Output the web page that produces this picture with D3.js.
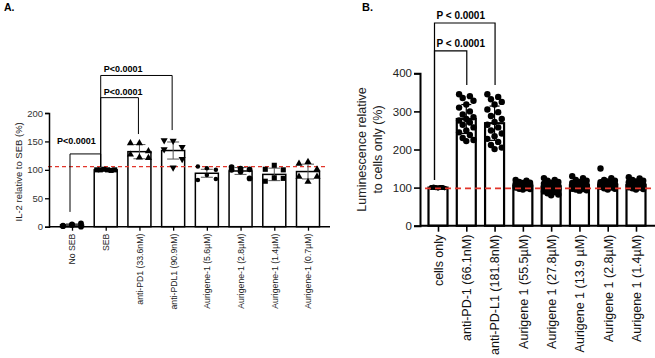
<!DOCTYPE html>
<html><head><meta charset="utf-8">
<script src="https://cdn.jsdelivr.net/npm/d3@7"></script>
<style>body{margin:0;background:#fff}svg{display:block;font-family:"Liberation Sans",Arial,sans-serif}</style>
</head><body>
<svg id="c" width="655" height="358"></svg>
<script>
// ---------- Panel A data ----------
const catsA = ["No SEB","SEB","anti-PD1 (33.6nM)","anti-PDL1 (90.9nM)","Aurigene-1 (5.6µM)","Aurigene-1 (2.8µM)","Aurigene-1 (1.4µM)","Aurigene-1 (0.7µM)"];
const meansA = [3, 100, 132, 134, 94, 98, 92, 97];
const sdA = [2, 0.5, 12.5, 15, 7, 6, 11, 13];
const pointsA = [
  [2, 4, 6, 1, 3, 0],
  [100, 100, 101, 100, 99, 100],
  [147, 147, 121, 127, 122, 133],
  [152, 151, 140, 136, 104, 119],
  [106, 103, 100, 82, 91, 84],
  [105, 102, 101, 100, 97, 85],
  [101, 108, 100, 80, 86, 85],
  [111, 114, 101, 88, 79, 88]
];
const markersA = ["circle","square","triangle-up","triangle-down","circle","circle","square","triangle-up"];
const refA = 105.5;
const ticksA = [0, 50, 100, 150, 200];
const sigA = [
  {from:1, to:3, level:266, endFrom:105, endTo:170, label:"P<0.0001"},
  {from:1, to:2, level:227, endFrom:105, endTo:163, label:"P<0.0001"},
  {from:0, to:1, level:128, endFrom:26, endTo:105, label:"P<0.0001"}
];

// ---------- Panel B data ----------
const catsB = ["cells only","anti-PD-1 (66.1nM)","anti-PD-L1 (181.8nM)","Aurigene 1 (55.5µM)","Aurigene 1 (27.8µM)","Aurigene 1 (13.9 µM)","Aurigene 1 (2.8µM)","Aurigene 1 (1.4µM)"];
const meansB = [100, 280, 269, 105, 103, 106, 108, 107];
const sdB = [1, 38, 45, 7, 12, 10, 11, 9];
const pointsB = [
  [101,100,99,100,101,100,99,100,102,100,98,100,101,99,100,100,101,99,100,100],
  [345,340,335,328,318,310,300,292,285,280,276,271,265,258,250,245,238,230,225,222],
  [345,338,332,325,318,305,298,288,280,272,265,258,250,242,235,228,220,212,205,201],
  [120,118,115,113,112,110,110,108,108,107,106,105,104,103,102,100,99,97,96,95],
  [125,120,118,115,113,110,108,106,105,103,101,100,98,96,93,90,88,85,82,80],
  [130,125,120,118,115,112,110,108,107,105,104,103,102,100,99,97,96,95,93,92],
  [150,125,120,118,116,114,112,110,109,108,107,106,105,104,103,102,100,98,97,95],
  [127,124,120,118,116,114,112,110,108,107,106,105,104,103,102,101,100,98,96,95]
];
const refB = 98;
const ticksB = [0, 100, 200, 300, 400];
const sigB = [
  {from:0, to:2, level:532, endFrom:120, endTo:369, label:"P < 0.0001"},
  {from:0, to:1, level:459, endFrom:120, endTo:369, label:"P < 0.0001"}
];

const svg = d3.select("#c");
const RED = "#e2352b";

// ================= Panel A =================
(function(){
  const x = d3.scalePoint().domain(catsA).range([72, 308]);
  const y = d3.scaleLinear().domain([0, 200]).range([226.7, 113]);
  const g = svg.append("g");
  const bw = 23;

  g.selectAll("rect.bar").data(catsA).join("rect")
    .attr("x", d => x(d) - bw/2).attr("width", bw)
    .attr("y", (d,i) => y(meansA[i])).attr("height", (d,i) => y(0) - y(meansA[i]))
    .attr("fill", "#fff").attr("stroke", "#000").attr("stroke-width", 1.5);

  g.append("line").attr("x1", 48).attr("x2", 326).attr("y1", y(refA)).attr("y2", y(refA))
    .attr("stroke", RED).attr("stroke-width", 1.2).attr("stroke-dasharray", "4,3");

  catsA.forEach((c,i) => {
    if (i === 1) return;
    const cx = x(c), m = meansA[i], s = sdA[i];
    const eg = g.append("g").attr("stroke", "#555").attr("stroke-width", 1);
    eg.append("line").attr("x1", cx).attr("x2", cx).attr("y1", y(m+s)).attr("y2", y(m-s));
    eg.append("line").attr("x1", cx-6).attr("x2", cx+6).attr("y1", y(m+s)).attr("y2", y(m+s));
    eg.append("line").attr("x1", cx-6).attr("x2", cx+6).attr("y1", y(m-s)).attr("y2", y(m-s));
  });

  const symMap = {"circle": d3.symbolCircle, "square": d3.symbolSquare, "triangle-up": d3.symbolTriangle, "triangle-down": d3.symbolTriangle};
  const offs = [-9, 0, 9, -9, 0, 9];
  catsA.forEach((c,i) => {
    const mk = markersA[i];
    const size = (i === 4) ? 16 : (mk === "circle" ? 26 : (mk === "square" ? 26 : 22));
    g.selectAll(null).data(pointsA[i]).join("path")
      .attr("d", d3.symbol().type(symMap[mk]).size(size))
      .attr("transform", (v,j) => `translate(${x(c) + (i===1 ? (j-2.5)*3.6 : offs[j])},${y(v)})${mk==="triangle-down"?" rotate(180)":""}`)
      .attr("fill", "#000");
  });

  g.append("line").attr("x1", 49).attr("x2", 330).attr("y1", y(0)).attr("y2", y(0)).attr("stroke", "#000").attr("stroke-width", 1.5);
  const ya = g.append("g").attr("transform", "translate(49,0)")
    .call(d3.axisLeft(y).tickValues(ticksA).tickSize(4).tickPadding(2));
  ya.select(".domain").attr("stroke-width", 1.5);
  ya.selectAll(".tick line").attr("stroke-width", 1.3);
  ya.selectAll("text").attr("font-size", 9.5).attr("fill", "#333").attr("font-family", "Liberation Sans, Arial, sans-serif");

  const xa = g.append("g").attr("transform", `translate(0,${y(0)})`)
    .call(d3.axisBottom(x).tickSize(4).tickPadding(2));
  xa.select(".domain").remove();
  xa.selectAll(".tick line").attr("stroke-width", 1.3);
  xa.selectAll("text").attr("font-size", 8.7).attr("fill", "#222")
    .attr("font-family", "Liberation Sans, Arial, sans-serif")
    .attr("transform", "rotate(-90)").attr("text-anchor", "end")
    .attr("x", -7).attr("y", 0).attr("dy", "0.33em");

  g.append("text").attr("transform", `translate(22,${(y(0)+y(200))/2+2}) rotate(-90)`)
    .attr("text-anchor", "middle").attr("font-size", 9.5).attr("fill", "#222")
    .text("IL-2 relative to SEB (%)");

  const sg = g.append("g");
  sigA.forEach((s, k) => {
    const xf = x(catsA[s.from]) + (s.from === 1 ? -5 : -2);
    const xt = x(catsA[s.to]) + (s.to === 1 ? -5 : -1);
    const ly = y(s.level);
    sg.append("path").attr("d", `M${xf},${y(s.endFrom)}V${ly}H${xt}V${y(s.endTo)}`)
      .attr("fill", "none").attr("stroke", "#000").attr("stroke-width", 1);
    const tx = k === 2 ? xf - 13 : xf + 3;
    const ty = k === 2 ? ly - 9.5 : ly - 3;
    sg.append("text").attr("x", tx).attr("y", ty).attr("font-size", 9).attr("font-weight", "bold").text(s.label);
  });

  svg.append("text").attr("x", 4).attr("y", 11).attr("font-size", 10.5).attr("font-weight", "bold").text("A.");
})();

// ================= Panel B =================
(function(){
  const x = d3.scalePoint().domain(catsB).range([438, 636]);
  const y = d3.scaleLinear().domain([0, 400]).range([225.7, 73.3]);
  const g = svg.append("g");
  const bw = 19;

  g.selectAll("rect.bar").data(catsB).join("rect")
    .attr("x", d => x(d) - bw/2).attr("width", bw)
    .attr("y", (d,i) => y(meansB[i])).attr("height", (d,i) => y(0) - y(meansB[i]))
    .attr("fill", "#fff").attr("stroke", "#000").attr("stroke-width", 2.2);

  catsB.forEach((c,i) => {
    const cx = x(c), m = meansB[i], s = sdB[i];
    const eg = g.append("g").attr("stroke", "#000").attr("stroke-width", 1.2);
    eg.append("line").attr("x1", cx).attr("x2", cx).attr("y1", y(m+s)).attr("y2", y(m-s));
    eg.append("line").attr("x1", cx-5).attr("x2", cx+5).attr("y1", y(m+s)).attr("y2", y(m+s));
    eg.append("line").attr("x1", cx-5).attr("x2", cx+5).attr("y1", y(m-s)).attr("y2", y(m-s));
  });

  catsB.forEach((c,i) => {
    g.selectAll(null).data(pointsB[i]).join("circle")
      .attr("cx", (v,j) => i === 0 ? x(c) + ((j % 7) - 3) * 2.2 : x(c) + (((j * 3) % 5) - 2) * 3.6)
      .attr("cy", v => y(v)).attr("r", i === 0 ? 2.3 : 3.2).attr("fill", "#000");
  });

  g.append("line").attr("x1", 425).attr("x2", 655).attr("y1", y(refB)).attr("y2", y(refB))
    .attr("stroke", RED).attr("stroke-width", 1.6).attr("stroke-dasharray", "6,4");

  g.append("line").attr("x1", 420).attr("x2", 655).attr("y1", y(0)).attr("y2", y(0)).attr("stroke", "#000").attr("stroke-width", 2);
  const ya = g.append("g").attr("transform", "translate(420,0)")
    .call(d3.axisLeft(y).tickValues(ticksB).tickSize(6).tickPadding(2));
  ya.select(".domain").attr("stroke-width", 2);
  ya.selectAll(".tick line").attr("stroke-width", 1.6);
  ya.selectAll("text").attr("font-size", 11.5).attr("fill", "#222").attr("font-family", "Liberation Sans, Arial, sans-serif");

  const xa = g.append("g").attr("transform", `translate(0,${y(0)})`)
    .call(d3.axisBottom(x).tickSize(6).tickPadding(2));
  xa.select(".domain").remove();
  xa.selectAll(".tick line").attr("stroke-width", 1.6);
  xa.selectAll("text").attr("font-size", 12.5).attr("fill", "#111")
    .attr("font-family", "Liberation Sans, Arial, sans-serif")
    .attr("transform", "rotate(-90)").attr("text-anchor", "end")
    .attr("x", -9).attr("y", 0).attr("dy", "0.35em");

  const t = g.append("text").attr("transform", `translate(366,${(y(0)+y(400))/2}) rotate(-90)`)
    .attr("text-anchor", "middle").attr("font-size", 12.5).attr("fill", "#222");
  t.append("tspan").attr("x", 0).attr("dy", 0).text("Luminescence relative");
  t.append("tspan").attr("x", 0).attr("dy", "1.25em").text("to cells only (%)");

  const sg = g.append("g");
  sigB.forEach(s => {
    const xf = x(catsB[s.from]) - 3.5;
    const xt = x(catsB[s.to]) + 0.5;
    const ly = y(s.level);
    sg.append("path").attr("d", `M${xf},${y(s.endFrom)}V${ly}H${xt}V${y(s.endTo)}`)
      .attr("fill", "none").attr("stroke", "#000").attr("stroke-width", 1.2);
    sg.append("text").attr("x", xf + 2).attr("y", ly - 4).attr("font-size", 10).attr("font-weight", "bold").text(s.label);
  });

  svg.append("text").attr("x", 362).attr("y", 11).attr("font-size", 11).attr("font-weight", "bold").text("B.");
})();
</script>
</body></html>
